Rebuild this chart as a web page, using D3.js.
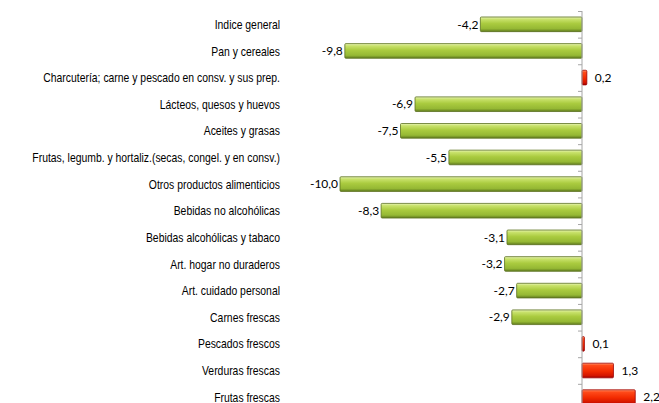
<!DOCTYPE html>
<html>
<head>
    <meta charset="UTF-8">
    <title>Variación de precios</title>
    <script src="https://d3js.org/d3.v7.min.js"></script>
    <style type="text/css">
      body{ margin:0; background-color:white; }
      svg{ display:block; background-color:white; }
      .cat{ font-family:"Liberation Sans",Arial,sans-serif; font-size:13px; fill:#000; }
      .val{ font-family:Lato,"Open Sans",sans-serif; font-size:12px; fill:#000; }
    </style>
</head>
<body>
    <svg id="chart"></svg>
    <script>
        const categories = [
          "Indice general",
          "Pan y cereales",
          "Charcutería; carne y pescado en consv. y sus prep.",
          "Lácteos, quesos y huevos",
          "Aceites y grasas",
          "Frutas, legumb. y hortaliz.(secas, congel. y en consv.)",
          "Otros productos alimenticios",
          "Bebidas no alcohólicas",
          "Bebidas alcohólicas y tabaco",
          "Art. hogar no duraderos",
          "Art. cuidado personal",
          "Carnes frescas",
          "Pescados frescos",
          "Verduras frescas",
          "Frutas frescas"
        ];
        const values = [-4.2, -9.8, 0.2, -6.9, -7.5, -5.5, -10.0, -8.3, -3.1, -3.2, -2.7, -2.9, 0.1, 1.3, 2.2];

        const data = categories.map((c, i) => ({cat: c, val: values[i]}));

        const width = 659;
        const height = 403;

        const svg = d3.select("#chart")
          .attr("width", width)
          .attr("height", height);

        const defs = svg.append("defs");
        const green = defs.append("linearGradient").attr("id", "green")
          .attr("x1", 0).attr("y1", 0).attr("x2", 0).attr("y2", 1);
        [["0%", "#eaf5bc"], ["15%", "#c9e26c"], ["45%", "#aacb3f"], ["80%", "#95b834"], ["100%", "#5f7a1e"]]
          .forEach(s => green.append("stop").attr("offset", s[0]).attr("stop-color", s[1]));
        const red = defs.append("linearGradient").attr("id", "red")
          .attr("x1", 0).attr("y1", 0).attr("x2", 0).attr("y2", 1);
        [["0%", "#ff9a70"], ["15%", "#ff4a1a"], ["55%", "#f22a00"], ["85%", "#d41500"], ["100%", "#9a0000"]]
          .forEach(s => red.append("stop").attr("offset", s[0]).attr("stop-color", s[1]));

        const x_scale = d3.scaleLinear()
          .domain([-10, 2.5])
          .range([340, 642.5]);

        const y_scale = d3.scaleBand()
          .domain(categories)
          .range([11, 11 + 15 * 26.63])
          .paddingInner(0.45)
          .paddingOuter(0.225);

        const step = y_scale.step();
        const x0 = x_scale(0);

        // category labels, squeezed horizontally to look like a narrow font
        svg.selectAll("text.cat")
          .data(data)
          .enter()
          .append("text")
          .attr("class", "cat")
          .attr("transform", d => `translate(280, ${y_scale(d.cat) + y_scale.bandwidth() / 2}) scale(0.8, 1)`)
          .attr("dy", "0.35em")
          .attr("text-anchor", "end")
          .text(d => d.cat);

        // value labels (drawn under the bars)
        svg.selectAll("text.val")
          .data(data)
          .enter()
          .append("text")
          .attr("class", "val")
          .attr("x", d => d.val < 0 ? x_scale(d.val) - 2 : x_scale(d.val) + 8)
          .attr("y", d => y_scale(d.cat) + y_scale.bandwidth() / 2)
          .attr("dy", "0.35em")
          .attr("text-anchor", d => d.val < 0 ? "end" : "start")
          .text(d => d3.format(".1f")(d.val).replace(".", ",").replace("−", "-"));

        // bars
        svg.selectAll("rect.bar")
          .data(data)
          .enter()
          .append("rect")
          .attr("class", "bar")
          .attr("x", d => Math.min(x_scale(d.val), x0))
          .attr("y", d => y_scale(d.cat))
          .attr("width", d => Math.abs(x_scale(d.val) - x0))
          .attr("height", y_scale.bandwidth())
          .attr("rx", 1)
          .style("fill", d => d.val < 0 ? "url(#green)" : "url(#red)")
          .style("stroke", d => d.val < 0 ? "#5c7120" : "#a00000")
          .style("stroke-width", 0.8);

        // vertical axis with ticks at band boundaries
        const axis = svg.append("g");
        axis.append("line")
          .attr("x1", x0).attr("x2", x0)
          .attr("y1", 11).attr("y2", height)
          .style("stroke", "#a6a6a6");
        axis.selectAll("line.tick")
          .data(d3.range(categories.length))
          .enter()
          .append("line")
          .attr("class", "tick")
          .attr("x1", x0 - 4).attr("x2", x0)
          .attr("y1", i => 11 + i * step + 0.5)
          .attr("y2", i => 11 + i * step + 0.5)
          .style("stroke", "#a6a6a6");
    </script>
</body>
</html>
